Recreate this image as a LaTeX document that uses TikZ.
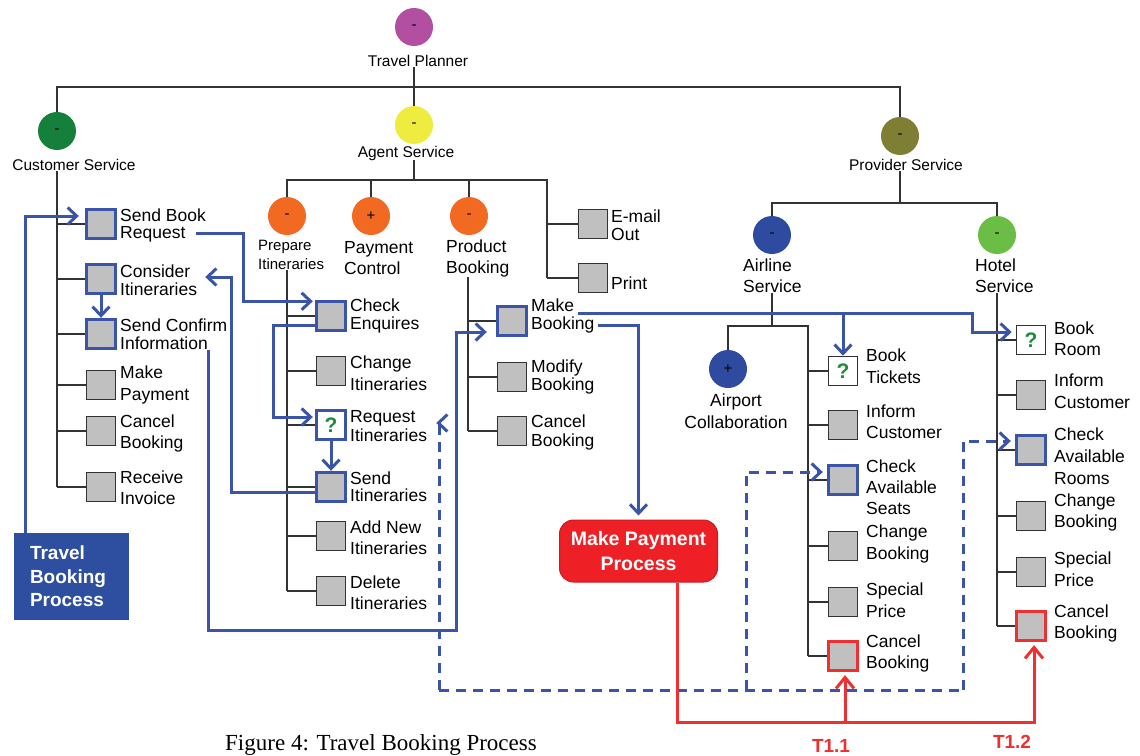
\documentclass[tikz,border=0pt]{standalone}
\usepackage{fontspec}
\setmainfont{Liberation Sans}
\newfontfamily\capfont{Liberation Serif}
\usetikzlibrary{arrows.meta}
\definecolor{bl}{HTML}{3A55A8}
\definecolor{tbpblue}{HTML}{2E4F9F}
\definecolor{rd}{HTML}{EE3030}
\definecolor{mppred}{HTML}{EE2026}
\definecolor{boxgray}{HTML}{C0C0C0}
\definecolor{qgreen}{HTML}{1E8B3E}
\definecolor{cpurple}{HTML}{B24FA0}
\definecolor{cdkgreen}{HTML}{15803B}
\definecolor{cyellow}{HTML}{EEEC3E}
\definecolor{colive}{HTML}{7E7E34}
\definecolor{corange}{HTML}{F26A21}
\definecolor{cblue}{HTML}{2E4BA0}
\definecolor{cgreen}{HTML}{6BBE45}
\definecolor{tl}{HTML}{333333}
\begin{document}
\begin{tikzpicture}[x=1pt,y=-1pt,
  tline/.style={draw=tl,line width=1.6pt},
  circ/.style={circle,minimum size=38pt,inner sep=0pt,font=\fontsize{15}{15}\selectfont},
  sbox/.style={rectangle,draw=black!80,line width=1.6pt,fill=boxgray,minimum width=29pt,minimum height=29pt,inner sep=0pt},
  hbox/.style={sbox,draw=bl,line width=3.4pt},
  rbox/.style={sbox,draw=rd,line width=3.2pt},
  qmark/.style={fill=white,text=qgreen,font=\bfseries\fontsize{21}{21}\selectfont},
  lbl/.style={anchor=west,align=left,inner sep=0pt,font=\fontsize{17.5}{#1}\selectfont},
  lbl/.default=20,
  slbl/.style={inner sep=0pt,align=center,font=\fontsize{15.5}{18}\selectfont},
  bline/.style={draw=bl,line width=3pt},
  barrow/.style={bline,-{Straight Barb[length=9pt,width=17pt]}},
  darrow/.style={barrow,dash pattern=on 10pt off 7pt},
  dline/.style={bline,dash pattern=on 10pt off 7pt},
  rarrow/.style={draw=rd,line width=3pt,-{Straight Barb[length=11pt,width=18pt]}},
  tlab/.style={text=rd,font=\bfseries\fontsize{19}{19}\selectfont,inner sep=0pt},
  tbp/.style={fill=tbpblue,text=white,font=\bfseries\fontsize{19}{23.5}\selectfont,align=left,text width=83pt,inner xsep=16pt,minimum width=115pt,minimum height=87pt},
  mpp/.style={fill=mppred,draw=mppred!85!black,line width=1pt,rounded corners=14pt,text=white,font=\bfseries\fontsize{19.5}{25}\selectfont,align=center,minimum width=158pt,minimum height=62pt,inner sep=0pt},
]
\useasboundingbox (0,0) rectangle (1140,755);

% circles
\node[circ,fill=cpurple] (tp) at (414,27) {-};
\node[circ,fill=cdkgreen] (cs) at (57,131) {-};
\node[circ,fill=cyellow] (as) at (414,125) {-};
\node[circ,fill=colive] (ps) at (900,136) {-};
\node[circ,fill=corange] (pi) at (287,216) {-};
\node[circ,fill=corange] (pc) at (371,216) {+};
\node[circ,fill=corange] (pb) at (469,216) {-};
\node[circ,fill=cblue] (al) at (772,235) {-};
\node[circ,fill=cgreen] (ht) at (997,235) {-};
\node[circ,fill=cblue] (ac) at (728,369) {+};

% circle labels
\node[slbl] (tpl) at (418,61) {Travel Planner};
\node[slbl] (csl) at (74,165) {Customer Service};
\node[slbl] (asl) at (406,153) {Agent Service};
\node[slbl] (psl) at (906,165) {Provider Service};
\node[slbl,anchor=west,align=left,font=\fontsize{15}{18.5}\selectfont] (pil) at (258,255) {Prepare\\Itineraries};
\node[lbl=20.5] (pcl) at (344,258) {Payment\\Control};
\node[lbl=21] (pbl) at (446,258) {Product\\Booking};
\node[lbl=21] (all) at (743,276) {Airline\\Service};
\node[lbl=21] (htl) at (975,276) {Hotel\\Service};
\node[lbl=22,anchor=center,align=center] (acl) at (736,411) {Airport\\Collaboration};

% customer service tasks
\node[hbox] (sbr) at (101,224) {};
\node[lbl=17] (sbrl) at (120,225) {Send Book\\Request};
\node[hbox] (cit) at (101,279) {};
\node[lbl=18] (citl) at (120,280) {Consider\\Itineraries};
\node[hbox] (sci) at (101,334) {};
\node[lbl=18] (scil) at (120,334.5) {Send Confirm\\Information};
\node[sbox] (mp) at (101,385) {};
\node[lbl=22] (mpl) at (120,385) {Make\\Payment};
\node[sbox] (cb1) at (101,431) {};
\node[lbl=21] (cb1l) at (120,433.5) {Cancel\\Booking};
\node[sbox] (ri) at (101,487) {};
\node[lbl=21] (ril) at (120,488) {Receive\\Invoice};

% prepare itineraries tasks
\node[hbox] (ce) at (331,316) {};
\node[lbl=18] (cel) at (350,316) {Check\\Enquires};
\node[sbox] (chi) at (331,371) {};
\node[lbl=22] (chil) at (350,373) {Change\\Itineraries};
\node[hbox,qmark] (rqi) at (331,425) {?};
\node[lbl=19] (rqil) at (350,426.5) {Request\\Itineraries};
\node[hbox] (sei) at (331,487) {};
\node[lbl=17] (seil) at (350,486.5) {Send\\Itineraries};
\node[sbox] (ani) at (331,536) {};
\node[lbl=21] (anil) at (350,537.5) {Add New\\Itineraries};
\node[sbox] (dli) at (331,591) {};
\node[lbl=21] (dlil) at (350,592.5) {Delete\\Itineraries};

% product booking tasks
\node[hbox] (mb) at (512,321) {};
\node[lbl=18] (mbl) at (531,316) {Make\\Booking};
\node[sbox] (mdb) at (512,377) {};
\node[lbl=18] (mdbl) at (531,376.5) {Modify\\Booking};
\node[sbox] (cb2) at (512,431) {};
\node[lbl=19] (cb2l) at (531,432.5) {Cancel\\Booking};

% email / print
\node[sbox] (eo) at (593,224) {};
\node[lbl=18] (eol) at (611,225) {E-mail\\Out};
\node[sbox] (pr) at (593,278) {};
\node[lbl] (prl) at (611,283) {Print};

% airline tasks
\node[sbox,qmark] (bt) at (843,371) {?};
\node[lbl=22] (btl) at (866,366) {Book\\Tickets};
\node[sbox] (ic1) at (843,425) {};
\node[lbl=21] (ic1l) at (866,421.5) {Inform\\Customer};
\node[hbox] (cas) at (843,480) {};
\node[lbl=21] (casl) at (866,487) {Check\\Available\\Seats};
\node[sbox] (chb1) at (843,546) {};
\node[lbl=22] (chb1l) at (866,544) {Change\\Booking};
\node[sbox] (sp1) at (843,602) {};
\node[lbl=22] (sp1l) at (866,600) {Special\\Price};
\node[rbox] (cb3) at (843,656) {};
\node[lbl=21] (cb3l) at (866,653.5) {Cancel\\Booking};

% hotel tasks
\node[sbox,qmark] (br) at (1031,340) {?};
\node[lbl=21] (brl) at (1054,338.5) {Book\\Room};
\node[sbox] (ic2) at (1031,395) {};
\node[lbl=22] (ic2l) at (1054,391) {Inform\\Customer};
\node[hbox] (car) at (1031,450) {};
\node[lbl=22] (carl) at (1054,456) {Check\\Available\\Rooms};
\node[sbox] (chb2) at (1031,516) {};
\node[lbl=21] (chb2l) at (1054,512.5) {Change\\Booking};
\node[sbox] (sp2) at (1031,572) {};
\node[lbl=22] (sp2l) at (1054,569) {Special\\Price};
\node[rbox] (cb4) at (1031,626) {};
\node[lbl=21] (cb4l) at (1054,623.5) {Cancel\\Booking};

% process boxes and captions
\node[tbp] (tbp) at (71.5,576.5) {Travel\\Booking\\Process};
\node[mpp] (mpp) at (638.5,551) {Make Payment\\Process};
\node[tlab] (t11) at (831,746) {T1.1};
\node[tlab] (t12) at (1012,742) {T1.2};
\node[anchor=base west,inner sep=0pt,font=\capfont\fontsize{23}{23}\selectfont] (cap) at (225,750) {Figure 4: Travel Booking Process};

% tree lines
\coordinate (j0) at (414,87);
\coordinate (j1) at (414,180);
\coordinate (pj) at (901,203);
\coordinate (aj) at (772,326);
\coordinate (tC) at (57,0);
\coordinate (tP) at (287,0);
\coordinate (tB) at (468,0);
\coordinate (tE) at (547,0);
\coordinate (tA) at (808,0);

\draw[tline] (tp.south |- tpl.south) -- (j0) -- (as.north);
\draw[tline] (cs.north) |- (ps.north |- j0) -- (ps.north);
\draw[tline] (as.south |- asl.south) -- (j1);
\draw[tline] (pi.north) |- (j1 -| tE) -- (pr.west -| tE);
\draw[tline] (pc.north) -- (pc.north |- j1);
\draw[tline] (pb.north) -- (pb.north |- j1);
\draw[tline] (eo.west) -- (eo.west -| tE);
\draw[tline] (pr.west) -- (pr.west -| tE);

\draw[tline] (csl.south -| tC) -- (ri.west -| tC);
\foreach \n in {sbr,cit,sci,mp,cb1,ri} \draw[tline] (\n.west) -- (\n.west -| tC);

\draw[tline] (pil.south -| tP) -- (dli.west -| tP);
\foreach \n in {ce,chi,rqi,sei,ani,dli} \draw[tline] (\n.west) -- (\n.west -| tP);

\draw[tline] (pbl.south -| tB) -- (cb2.west -| tB);
\foreach \n in {mb,mdb,cb2} \draw[tline] (\n.west) -- (\n.west -| tB);

\draw[tline] (ps.south |- psl.south) -- (ps.south |- pj);
\draw[tline] (al.north) |- (ht.north |- pj) -- (ht.north);

\draw[tline] (al.south |- all.south) -- (aj);
\draw[tline] (ac.north) |- (aj -| tA) -- (cb3.west -| tA);
\foreach \n in {bt,ic1,cas,chb1,sp1,cb3} \draw[tline] (\n.west) -- (\n.west -| tA);

\draw[tline] (ht.south |- htl.south) -- (ht.south |- cb4.west);
\foreach \n in {br,ic2,car,chb2,sp2,cb4} \draw[tline] (\n.west) -- (\n.west -| ht.south);

% blue solid flows
\coordinate (a2s) at (196,233);
\coordinate (a7s) at (208,350);
\coordinate (a8s) at (578,313);
\coordinate (a9s) at (598,325);
\draw[barrow] ([xshift=12pt]tbp.north west) |- ([xshift=-6pt,yshift=8pt]sbr.west);
\draw[barrow] (a2s) -- (243,233) |- ([xshift=-2pt,yshift=-1.5pt]ce.north west);
\draw[barrow] ([yshift=-9pt]ce.west) -- ++(-41,0) |- ([xshift=-2pt,yshift=8pt]rqi.west);
\draw[barrow] (rqi.south) -- (sei.north);
\draw[barrow] ([yshift=-5pt]sei.west) -- ++(-83,0) |- ([xshift=8pt,yshift=3pt]citl.east);
\draw[barrow] (cit.south) -- (sci.north);
\draw[barrow] (a7s) |- (456,630) |- ([xshift=-9pt,yshift=-11pt]mb.west);
\draw[barrow] (a8s) -- (972,313) |- ([xshift=-4pt,yshift=8pt]br.west);
\draw[barrow] (bt.north |- a8s) -- (bt.north);
\draw[barrow] (a9s) -| ([yshift=4pt]mpp.north);

% blue dashed flows
\coordinate (d1) at (439,690);
\coordinate (d2) at (746,690);
\coordinate (d3) at (963,690);
\draw[dline] (d1) -- (d3);
\draw[darrow] (d1) |- ([xshift=9pt,yshift=3.5pt]rqil.east);
\draw[darrow] (d2) |- ([xshift=-4pt,yshift=8pt]cas.west);
\draw[darrow] (d3) |- ([xshift=-4pt,yshift=9pt]car.west);

% red flows
\coordinate (rb) at (845,722);
\draw[rarrow] ([xshift=38.5pt]mpp.south) -- ++(0,140) -| ([xshift=3pt,yshift=-3pt]cb4.south);
\draw[rarrow] (rb) -- ([xshift=2pt,yshift=-3pt]cb3.south);
\end{tikzpicture}
\end{document}
